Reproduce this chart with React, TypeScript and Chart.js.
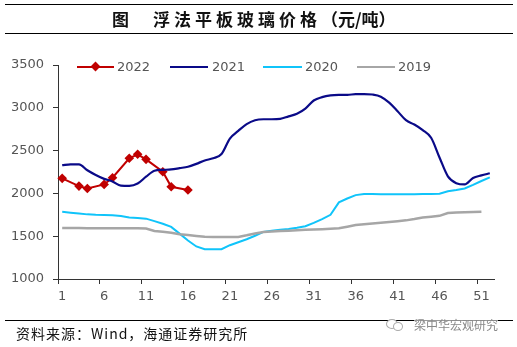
import React, { useEffect, useRef } from 'react';
import { Chart, registerables } from 'chart.js';

Chart.register(...registerables);

const weeks = [
  '1', '2', '3', '4', '5', '6', '7', '8', '9', '10', '11', '12', '13',
  '14', '15', '16', '17', '18', '19', '20', '21', '22', '23', '24', '25', '26',
  '27', '28', '29', '30', '31', '32', '33', '34', '35', '36', '37', '38', '39',
  '40', '41', '42', '43', '44', '45', '46', '47', '48', '49', '50', '51', '52',
];
const shownTicks = ['1', '6', '11', '16', '21', '26', '31', '36', '41', '46', '51'];

const s2022 = [2176, null, 2085, 2058, null, 2105, 2183, null, 2410, 2457, 2398, null, 2253, 2077, null, 2039];

const s2021 = [
  2330, 2338, 2340, 2270, 2215, 2170, 2140, 2090, 2088, 2115, 2195, 2265, 2275,
  2280, 2295, 2311, 2345, 2385, 2410, 2460, 2640, 2730, 2810, 2855, 2866, 2866,
  2870, 2900, 2930, 2990, 3085, 3125, 3145, 3151, 3152, 3159, 3160, 3155, 3130,
  3060, 2960, 2855, 2805, 2740, 2650, 2420, 2200, 2120, 2105, 2180, 2210, 2235,
];

const s2020 = [
  1785, 1775, 1765, 1755, 1750, 1748, 1746, 1735, 1719, 1712, 1705, 1676, 1645,
  1609, 1530, 1450, 1380, 1348, 1348, 1348, 1395, 1430, 1465, 1505, 1550, 1565,
  1575, 1585, 1598, 1617, 1655, 1700, 1750, 1895, 1940, 1980, 1992, 1992, 1990,
  1990, 1990, 1990, 1990, 1992, 1992, 1995, 2025, 2040, 2058, 2100, 2145, 2187,
];

const s2019 = [
  1597, 1595, 1595, 1594, 1592, 1592, 1592, 1592, 1593, 1593, 1590, 1562, 1552,
  1540, 1523, 1513, 1503, 1493, 1492, 1492, 1492, 1492, 1510, 1532, 1550, 1555,
  1560, 1565, 1570, 1574, 1578, 1582, 1586, 1592, 1610, 1630, 1640, 1648, 1656,
  1665, 1675, 1685, 1700, 1718, 1728, 1738, 1770, 1778, 1780, 1782, 1785, null,
];

const yTicks = [1000, 1500, 2000, 2500, 3000, 3500];

const seriesNames = ['2022', '2021', '2020', '2019'];
const seriesColors = ['#C00000', '#0A0A88', '#10C4FA', '#A6A6A6'];

const AXIS = '#333333';
const TICKFONT = { family: 'DejaVu Sans', size: 13 };
const TICKCOLOR = '#555555';

export default function App() {
  const ref = useRef<HTMLCanvasElement | null>(null);

  useEffect(() => {
    if (!ref.current) return;
    const chart = new Chart(ref.current, {
      type: 'line',
      data: {
        labels: weeks,
        datasets: [
          {
            label: seriesNames[3],
            data: s2019,
            borderColor: seriesColors[3],
            borderWidth: 2.5,
            pointRadius: 0,
            tension: 0,
          },
          {
            label: seriesNames[2],
            data: s2020,
            borderColor: seriesColors[2],
            borderWidth: 2,
            pointRadius: 0,
            tension: 0,
          },
          {
            label: seriesNames[1],
            data: s2021,
            borderColor: seriesColors[1],
            borderWidth: 2.2,
            pointRadius: 0,
            cubicInterpolationMode: 'monotone',
          },
          {
            label: seriesNames[0],
            data: s2022,
            borderColor: seriesColors[0],
            backgroundColor: seriesColors[0],
            borderWidth: 2,
            pointStyle: 'rectRot',
            pointRadius: 4.8,
            pointBorderWidth: 0,
            spanGaps: true,
            tension: 0,
          },
        ],
      },
      options: {
        animation: false,
        responsive: false,
        devicePixelRatio: 1,
        layout: { padding: { left: 0, right: 23, top: 65, bottom: 38 } },
        plugins: { legend: { display: false }, tooltip: { enabled: false } },
        scales: {
          x: {
            type: 'category',
            offset: true,
            afterFit: (s: any) => { s.height = 30; },
            grid: {
              offset: true,
              drawOnChartArea: false,
              drawTicks: true,
              tickLength: 5,
              lineWidth: 1,
              color: (ctx: any) => (ctx.index !== undefined && ctx.index % 5 === 0 ? AXIS : 'rgba(0,0,0,0)'),
            },
            border: { display: true, color: AXIS, width: 1 },
            ticks: {
              autoSkip: false,
              maxRotation: 0,
              minRotation: 0,
              padding: 5,
              font: TICKFONT,
              color: TICKCOLOR,
              callback: (_v: any, i: number) => (shownTicks.includes(weeks[i]) ? weeks[i] : ''),
            },
          },
          y: {
            min: yTicks[0],
            max: yTicks[yTicks.length - 1],
            afterFit: (s: any) => { s.width = 58; },
            afterBuildTicks: (s: any) => { s.ticks = yTicks.map((v) => ({ value: v })); },
            grid: { drawOnChartArea: false, drawTicks: true, tickLength: 5, color: AXIS },
            border: { display: true, color: AXIS, width: 1 },
            ticks: {
              padding: 9,
              font: TICKFONT,
              color: TICKCOLOR,
              callback: (v: any) => String(v),
            },
          },
        },
      },
    });
    return () => chart.destroy();
  }, []);

  const legendItems = [
    { name: seriesNames[0], color: seriesColors[0], lineLeft: 77, lineW: 37, textLeft: 117, marker: true },
    { name: seriesNames[1], color: seriesColors[1], lineLeft: 170, lineW: 38, textLeft: 212, marker: false },
    { name: seriesNames[2], color: seriesColors[2], lineLeft: 263, lineW: 39, textLeft: 305, marker: false },
    { name: seriesNames[3], color: seriesColors[3], lineLeft: 357, lineW: 38, textLeft: 398, marker: false },
  ];

  const cjk = '"Noto Sans CJK SC", "Noto Sans", sans-serif';

  return (
    <div style={{ position: 'fixed', left: 0, top: 0, width: 517, height: 347, background: '#fff', overflow: 'hidden' }}>
      <canvas ref={ref} width={517} height={347} style={{ position: 'absolute', left: 0, top: 0, width: 517, height: 347 }} />
      <div style={{ position: 'absolute', left: 5, top: 4, width: 508, height: 0, borderTop: '1.5px solid #000' }} />
      <div style={{ position: 'absolute', left: 5, top: 33, width: 508, height: 0, borderTop: '1.5px solid #000' }} />
      <div style={{ position: 'absolute', left: 112, top: 6, height: 26, lineHeight: '26px', fontFamily: cjk, fontWeight: 700, fontSize: 17, color: '#111', whiteSpace: 'nowrap' }}>图</div>
      <div style={{ position: 'absolute', left: 153, top: 6, height: 26, lineHeight: '26px', fontFamily: cjk, fontWeight: 700, fontSize: 17, color: '#111', whiteSpace: 'nowrap' }}>
        <span style={{ letterSpacing: 4 }}>浮法平板玻璃价格</span>
        <span>（元/吨）</span>
      </div>
      {legendItems.map((it) => (
        <React.Fragment key={it.name}>
          <div style={{ position: 'absolute', left: it.lineLeft, top: 65.5, width: it.lineW, height: 2, background: it.color }} />
          {it.marker ? (
            <div style={{ position: 'absolute', left: it.lineLeft + it.lineW / 2 - 3.5, top: 63, width: 7, height: 7, background: it.color, transform: 'rotate(45deg)' }} />
          ) : null}
          <div style={{ position: 'absolute', left: it.textLeft, top: 58, height: 17, lineHeight: '17px', fontFamily: 'DejaVu Sans', fontSize: 13, color: TICKCOLOR, whiteSpace: 'nowrap' }}>{it.name}</div>
        </React.Fragment>
      ))}
      <div style={{ position: 'absolute', left: 5, top: 320, width: 508, height: 0, borderTop: '1px solid #000' }} />
      <div style={{ position: 'absolute', left: 16, top: 324, height: 18, lineHeight: '18px', fontFamily: cjk, fontSize: 14, letterSpacing: 1, color: '#111', whiteSpace: 'nowrap' }}>资料来源：Wind，海通证券研究所</div>
      <div style={{ position: 'absolute', left: 386, top: 319, width: 10, height: 8, border: '1px solid #aaa', borderRadius: '50%', background: '#fff' }} />
      <div style={{ position: 'absolute', left: 393, top: 322, width: 8, height: 7, border: '1px solid #aaa', borderRadius: '50%', background: '#fff' }} />
      <div style={{ position: 'absolute', left: 414, top: 317, height: 16, lineHeight: '16px', fontFamily: cjk, fontSize: 12, color: '#888', whiteSpace: 'nowrap', background: 'rgba(255,255,255,0.6)' }}>梁中华宏观研究</div>
    </div>
  );
}
